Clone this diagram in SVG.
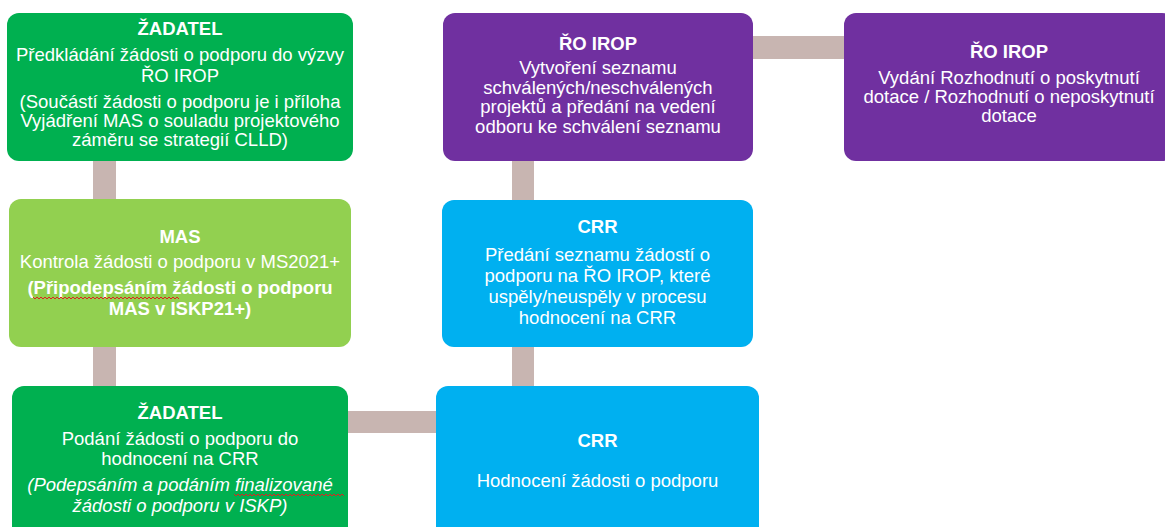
<svg xmlns="http://www.w3.org/2000/svg" width="1165" height="527" viewBox="0 0 1165 527">
<style>
text{font-family:"Liberation Sans",Arial,sans-serif;font-size:18.5px;fill:#ffffff;text-anchor:middle}
.b{font-weight:bold}
.i{font-style:italic}
.conn{fill:#C8B5B1}
.g1{fill:#00B050}
.g2{fill:#92D050}
.bl{fill:#00B0F0}
.pu{fill:#7030A0}
.sq{fill:none;stroke:#E02020;stroke-width:1}
</style>
<rect width="1165" height="527" fill="#ffffff"/>
<g id="connectors">
<rect class="conn" x="93" y="160" width="23" height="40"/>
<rect class="conn" x="93" y="347" width="23" height="39"/>
<rect class="conn" x="348" y="411" width="88" height="22"/>
<rect class="conn" x="512" y="347" width="22" height="39"/>
<rect class="conn" x="512" y="160" width="22" height="40"/>
<rect class="conn" x="753" y="36" width="91" height="23"/>
</g>
<g id="node-zadatel1">
<rect class="g1" x="7" y="13" width="346" height="148" rx="12"/>
<text class="b" x="180" y="35">ŽADATEL</text>
<text x="180" y="61">Předkládání žádosti o podporu do výzvy</text>
<text x="180" y="82">ŘO IROP</text>
<text x="180" y="108">(Součástí žádosti o podporu je i příloha</text>
<text x="180" y="127">Vyjádření MAS o souladu projektového</text>
<text x="180" y="146">záměru se strategií CLLD)</text>
</g>
<g id="node-mas">
<rect class="g2" x="9" y="199" width="342" height="148" rx="12"/>
<text class="b" x="180" y="243">MAS</text>
<text x="180" y="268">Kontrola žádosti o podporu v MS2021+</text>
<text class="b" x="180" y="294">(Připodepsáním žádosti o podporu</text>
<text class="b" x="180" y="315">MAS v ISKP21+)</text>
<path class="sq" d="M33 297 l2 2 l2 -2 l2 2 l2 -2 l2 2 l2 -2 l2 2 l2 -2 l2 2 l2 -2 l2 2 l2 -2 l2 2 l2 -2 l2 2 l2 -2 l2 2 l2 -2 l2 2 l2 -2 l2 2 l2 -2 l2 2 l2 -2 l2 2 l2 -2 l2 2 l2 -2 l2 2 l2 -2 l2 2 l2 -2 l2 2 l2 -2 l2 2 l2 -2 l2 2 l2 -2 l2 2 l2 -2 l2 2 l2 -2 l2 2 l2 -2 l2 2 l2 -2 l2 2 l2 -2 l2 2 l2 -2 l2 2 l2 -2 l2 2 l2 -2 l2 2 l2 -2 l2 2 l2 -2 l2 2 l2 -2 l2 2 l2 -2 l2 2 l2 -2 l2 2 l2 -2 l2 2 l2 -2 l2 2 l2 -2 l2 2 l2 -2 l2 2"/>
</g>
<g id="node-zadatel2">
<rect class="g1" x="12" y="386" width="336" height="160" rx="12"/>
<text class="b" x="180" y="419">ŽADATEL</text>
<text x="180" y="445">Podání žádosti o podporu do</text>
<text x="180" y="465">hodnocení na CRR</text>
<text class="i" x="180" y="491">(Podepsáním a podáním finalizované</text>
<text class="i" x="180" y="512">žádosti o podporu v ISKP)</text>
<path class="sq" d="M234 494 l2 2 l2 -2 l2 2 l2 -2 l2 2 l2 -2 l2 2 l2 -2 l2 2 l2 -2 l2 2 l2 -2 l2 2 l2 -2 l2 2 l2 -2 l2 2 l2 -2 l2 2 l2 -2 l2 2 l2 -2 l2 2 l2 -2 l2 2 l2 -2 l2 2 l2 -2 l2 2 l2 -2 l2 2 l2 -2 l2 2 l2 -2 l2 2 l2 -2 l2 2 l2 -2 l2 2 l2 -2 l2 2 l2 -2 l2 2 l2 -2 l2 2 l2 -2 l2 2 l2 -2 l2 2 l2 -2 l2 2 l2 -2 l2 2 l2 -2 l2 2"/>
</g>
<g id="node-crr-eval">
<rect class="bl" x="436" y="386" width="323" height="160" rx="12"/>
<text class="b" x="597.5" y="447">CRR</text>
<text x="597.5" y="487">Hodnocení žádosti o podporu</text>
</g>
<g id="node-crr-list">
<rect class="bl" x="442" y="200" width="311" height="147" rx="12"/>
<text class="b" x="597.5" y="233">CRR</text>
<text x="597.5" y="261">Předání seznamu žádostí o</text>
<text x="597.5" y="282">podporu na ŘO IROP, které</text>
<text x="597.5" y="303">uspěly/neuspěly v procesu</text>
<text x="597.5" y="324">hodnocení na CRR</text>
</g>
<g id="node-ro-list">
<rect class="pu" x="443" y="13" width="310" height="148" rx="12"/>
<text class="b" x="598" y="50">ŘO IROP</text>
<text x="598" y="74">Vytvoření seznamu</text>
<text x="598" y="94">schválených/neschválených</text>
<text x="598" y="113">projektů a předání na vedení</text>
<text x="598" y="133">odboru ke schválení seznamu</text>
</g>
<g id="node-ro-decision">
<rect class="pu" x="844" y="13" width="330" height="148" rx="12"/>
<text class="b" x="1009" y="58">ŘO IROP</text>
<text x="1009" y="84">Vydání Rozhodnutí o poskytnutí</text>
<text x="1009" y="103">dotace / Rozhodnutí o neposkytnutí</text>
<text x="1009" y="122">dotace</text>
</g>
</svg>
